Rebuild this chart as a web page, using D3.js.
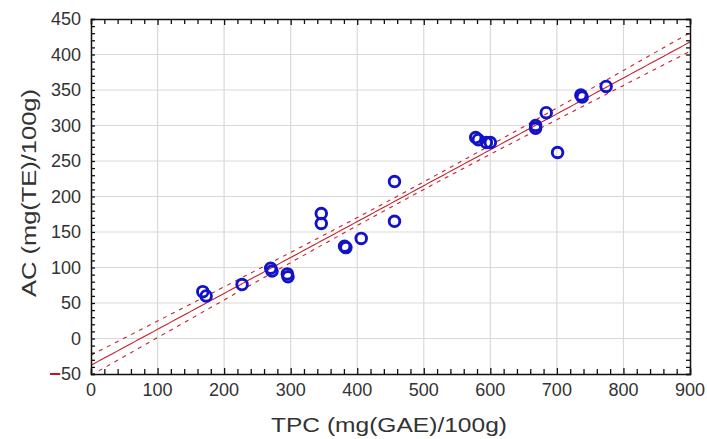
<!DOCTYPE html>
<html>
<head>
<meta charset="utf-8">
<script src="https://cdn.jsdelivr.net/npm/d3@7"></script>
<style>
  body { margin: 0; background: #fff; }
  svg text { font-family: "Liberation Sans", Arial, sans-serif; }
</style>
</head>
<body>
<div id="vis"></div>
<script>
// ── Data ───────────────────────────────────────────────────────────────
const tpc = [168, 173, 227, 270, 272, 295, 296, 346, 346, 381, 383, 406, 456, 456,
             578, 582, 594, 600, 668, 668, 684, 701, 736, 738, 774];
const ac  = [66, 60, 76, 99, 95, 91, 87, 176, 162, 130, 128, 141, 221, 165,
             283, 280, 276, 276, 300, 296, 318, 262, 343, 340, 355];
const xTicks = [0, 100, 200, 300, 400, 500, 600, 700, 800, 900];
const yTicks = [-50, 0, 50, 100, 150, 200, 250, 300, 350, 400, 450];
const replicates = 3;   // each sample measured in triplicate → narrower band

const W = 707, H = 439;
const m = { l: 91, r: 17, t: 19, b: 65 };

const svg = d3.select("#vis").append("svg").attr("width", W).attr("height", H);

const x = d3.scaleLinear().domain([0, 900]).range([m.l, W - m.r]);
const y = d3.scaleLinear().domain([-50, 450]).range([H - m.b, m.t]);

// ── Grid ───────────────────────────────────────────────────────────────
const grid = svg.append("g");
grid.selectAll("line.gx").data(xTicks.slice(1, -1)).join("line")
  .attr("x1", d => x(d)).attr("x2", d => x(d)).attr("y1", y(-50)).attr("y2", y(450))
  .attr("stroke", "#d9d9d9").attr("stroke-width", 1.2);
grid.selectAll("line.gy").data(yTicks.slice(1, -1)).join("line")
  .attr("y1", d => y(d)).attr("y2", d => y(d)).attr("x1", x(0)).attr("x2", x(900))
  .attr("stroke", "#d9d9d9").attr("stroke-width", 1.2);

// ── Regression + 95% confidence band ───────────────────────────────────
const n = tpc.length;
const mx = d3.mean(tpc), my = d3.mean(ac);
let sxx = 0, sxy = 0;
tpc.forEach((v, i) => { sxx += (v - mx) ** 2; sxy += (v - mx) * (ac[i] - my); });
const b1 = sxy / sxx, b0 = my - b1 * mx;
let sse = 0;
tpc.forEach((v, i) => { sse += (ac[i] - b0 - b1 * v) ** 2; });
const se = Math.sqrt(sse / (n - 2));
const N = n * replicates, Sxx = sxx * replicates;
const tcrit = 1.993;
const xs = d3.range(0, 901, 5);
const band = k => xs.map(v => [v, b0 + b1 * v + k * tcrit * se * Math.sqrt(1 / N + (v - mx) ** 2 / Sxx)]);

svg.append("clipPath").attr("id", "pc").append("rect")
  .attr("x", x(0)).attr("y", y(450)).attr("width", x(900) - x(0)).attr("height", y(-50) - y(450));

const line = d3.line().x(d => x(d[0])).y(d => y(d[1]));
const fit = svg.append("g").attr("clip-path", "url(#pc)");
fit.append("path").datum(band(0)).attr("d", line)
  .attr("fill", "none").attr("stroke", "#c8202a").attr("stroke-width", 1.1);
[1, -1].forEach(k => {
  fit.append("path").datum(band(k)).attr("d", line)
    .attr("fill", "none").attr("stroke", "#c8202a").attr("stroke-width", 1.1)
    .attr("stroke-dasharray", "4,5");
});

// ── Points ─────────────────────────────────────────────────────────────
svg.append("g").selectAll("circle").data(tpc).join("circle")
  .attr("cx", d => x(d)).attr("cy", (d, i) => y(ac[i])).attr("r", 5.3)
  .attr("fill", "none").attr("stroke", "#1212c8").attr("stroke-width", 2.9);

// ── Axes (ticks inward on all four sides) ──────────────────────────────
const fmt = d3.format("d");
const xb = svg.append("g").attr("transform", `translate(0,${y(-50)})`)
  .call(d3.axisBottom(x).tickValues(d3.range(0, 901, 20)).tickSize(-5).tickFormat(""));
const xt = svg.append("g").attr("transform", `translate(0,${y(450)})`)
  .call(d3.axisTop(x).tickValues(d3.range(0, 901, 20)).tickSize(-5).tickFormat(""));
const yl = svg.append("g").attr("transform", `translate(${x(0)},0)`)
  .call(d3.axisLeft(y).tickValues(d3.range(-50, 451, 10)).tickSize(-4).tickFormat(""));
const yr = svg.append("g").attr("transform", `translate(${x(900)},0)`)
  .call(d3.axisRight(y).tickValues(d3.range(-50, 451, 10)).tickSize(-4).tickFormat(""));
[xb, xt, yl, yr].forEach(g => {
  g.select(".domain").attr("stroke", "#111").attr("stroke-width", 1.5);
  g.selectAll(".tick line").attr("stroke", "#111").attr("stroke-width", 1.3);
});
xb.selectAll(".tick line").filter(d => d % 100 === 0).attr("y2", -6);
xt.selectAll(".tick line").filter(d => d % 100 === 0).attr("y2", 6);

// tick labels
svg.append("g").selectAll("text").data(xTicks).join("text")
  .attr("x", d => x(d)).attr("y", y(-50) + 22).attr("text-anchor", "middle")
  .attr("font-size", 18).attr("fill", "#333").text(fmt);
svg.append("g").selectAll("text").data(yTicks).join("text")
  .attr("x", x(0) - 10).attr("y", d => y(d)).attr("dy", "0.36em").attr("text-anchor", "end")
  .attr("font-size", 18).attr("fill", "#333").text(fmt);

// small red mark at the -50 level
svg.append("line").attr("x1", 50).attr("x2", 60).attr("y1", y(-50)).attr("y2", y(-50))
  .attr("stroke", "#c8102e").attr("stroke-width", 2);

// ── Titles ─────────────────────────────────────────────────────────────
svg.append("text").attr("x", 389).attr("y", 432)
  .attr("text-anchor", "middle").attr("font-size", 21).attr("fill", "#333")
  .attr("textLength", 236).attr("lengthAdjust", "spacingAndGlyphs")
  .text("TPC (mg(GAE)/100g)");
svg.append("text").attr("transform", `translate(36,193) rotate(-90)`)
  .attr("text-anchor", "middle").attr("font-size", 21).attr("fill", "#333")
  .attr("textLength", 208).attr("lengthAdjust", "spacingAndGlyphs")
  .text("AC (mg(TE)/100g)");
</script>
</body>
</html>
